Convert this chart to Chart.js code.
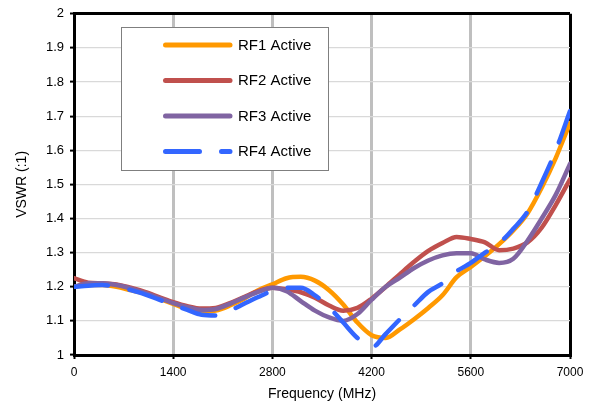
<!DOCTYPE html>
<html>
<head>
<meta charset="utf-8">
<script src="https://cdn.jsdelivr.net/npm/chart.js@4"></script>
<style>
  body { margin: 0; background: #fff; }
  canvas { display: block; }
</style>
</head>
<body>
<canvas id="vswr" width="590" height="403"></canvas>
<script>
// frequency points (MHz) shared by all four traces
const freqs = [0, 200, 400, 600, 800, 1000, 1200, 1400, 1600, 1800, 2000, 2200, 2400, 2600, 2800, 3000, 3200, 3400,
  3600, 3800, 4000, 4200, 4400, 4600, 4800, 5000, 5200, 5400, 5600, 5800, 6000, 6200, 6400, 6600, 6800, 7000];

const rf1 = [1.200, 1.205, 1.205, 1.200, 1.190, 1.180, 1.165, 1.150, 1.135, 1.127, 1.130, 1.145, 1.165, 1.190, 1.207, 1.225, 1.229, 1.218,
  1.190, 1.148, 1.095, 1.058, 1.050, 1.075, 1.105, 1.138, 1.175, 1.228, 1.258, 1.290, 1.325, 1.365, 1.415, 1.490, 1.578, 1.680];
const rf2 = [1.225, 1.212, 1.210, 1.207, 1.197, 1.185, 1.170, 1.155, 1.143, 1.136, 1.138, 1.152, 1.170, 1.187, 1.197, 1.192, 1.184, 1.168,
  1.145, 1.130, 1.138, 1.165, 1.200, 1.237, 1.273, 1.305, 1.328, 1.346, 1.340, 1.330, 1.307, 1.312, 1.330, 1.373, 1.440, 1.515];
const rf3 = [1.200, 1.210, 1.210, 1.205, 1.195, 1.182, 1.167, 1.152, 1.140, 1.132, 1.135, 1.150, 1.168, 1.185, 1.197, 1.187, 1.158, 1.130,
  1.110, 1.100, 1.120, 1.162, 1.200, 1.227, 1.255, 1.277, 1.292, 1.298, 1.298, 1.280, 1.270, 1.282, 1.335, 1.400, 1.470, 1.560];
const rf4 = [1.200, 1.203, 1.205, 1.200, 1.190, 1.178, 1.162, 1.147, 1.132, 1.118, 1.116, 1.130, 1.150, 1.170, 1.188, 1.197, 1.197, 1.175,
  1.140, 1.095, 1.050, 1.022, 1.062, 1.105, 1.145, 1.185, 1.210, 1.245, 1.270, 1.300, 1.327, 1.370, 1.420, 1.505, 1.600, 1.715];

const seriesNames = ['RF1 Active', 'RF2 Active', 'RF3 Active', 'RF4 Active'];
const xTicks = [0, 1400, 2800, 4200, 5600, 7000];
const yTicks = [1, 1.1, 1.2, 1.3, 1.4, 1.5, 1.6, 1.7, 1.8, 1.9, 2];

const FONT = "'Liberation Sans', Arial, Helvetica, sans-serif";

const toPoints = vals => vals.map((v, i) => ({ x: freqs[i], y: v }));

// boxed legend sitting inside the plot, like the Excel original
const legendBox = {
  id: 'legendBox',
  afterDraw(chart) {
    const ctx = chart.ctx;
    ctx.save();
    ctx.fillStyle = '#ffffff';
    ctx.fillRect(121, 27, 207, 143);
    ctx.strokeStyle = '#7f7f7f';
    ctx.lineWidth = 1;
    ctx.strokeRect(121.5, 27.5, 207, 143);
    chart.data.datasets.forEach((ds, i) => {
      const y = 45 + i * 35.5;
      ctx.beginPath();
      ctx.strokeStyle = ds.borderColor;
      ctx.lineWidth = 5;
      ctx.lineCap = 'round';
      ctx.setLineDash(ds.borderDash || []);
      ctx.moveTo(165.5, y);
      ctx.lineTo(230, y);
      ctx.stroke();
      ctx.setLineDash([]);
      ctx.fillStyle = '#000';
      ctx.font = '15px ' + FONT;
      ctx.textBaseline = 'middle';
      ctx.fillText(ds.label, 238, y + 0.5);
    });
    ctx.restore();
  }
};

const line = (label, data, color, order, dash) => ({
  label,
  data: toPoints(data),
  borderColor: color,
  borderWidth: 4.5,
  borderDash: dash,
  borderCapStyle: 'round',
  borderJoinStyle: 'round',
  pointRadius: 0,
  cubicInterpolationMode: 'monotone',
  fill: false,
  order
});

new Chart(document.getElementById('vswr').getContext('2d'), {
  type: 'line',
  data: {
    datasets: [
      line(seriesNames[0], rf1, '#FF9900', 4),
      line(seriesNames[1], rf2, '#C0504D', 3),
      line(seriesNames[2], rf3, '#8064A2', 2),
      line(seriesNames[3], rf4, '#3366FF', 1, [34, 22])
    ]
  },
  options: {
    responsive: false,
    animation: false,
    layout: { padding: { top: 13, right: 20, left: 0, bottom: 0 } },
    plugins: {
      legend: { display: false },
      tooltip: { enabled: false }
    },
    scales: {
      x: {
        type: 'linear',
        min: 0,
        max: 7000,
        afterBuildTicks: scale => { scale.ticks = xTicks.map(v => ({ value: v })); },
        afterFit: scale => { scale.height = 48; },
        ticks: {
          color: '#000',
          font: { family: FONT, size: 12 },
          padding: 6,
          maxRotation: 0,
          callback: v => String(v)
        },
        grid: {
          color: c => (c.tick && c.tick.value === 7000 ? '#000' : '#BFBFBF'),
          lineWidth: 3,
          tickLength: 4,
          tickColor: '#000',
          tickWidth: 2
        },
        border: { color: '#000', width: 3 },
        title: {
          display: true,
          text: 'Frequency (MHz)',
          color: '#000',
          font: { family: FONT, size: 14 },
          padding: { top: 0, bottom: 0 }
        }
      },
      y: {
        min: 1,
        max: 2,
        afterBuildTicks: scale => { scale.ticks = yTicks.map(v => ({ value: v })); },
        afterFit: scale => { scale.width = 74; },
        ticks: {
          color: '#000',
          font: { family: FONT, size: 13 },
          padding: 6,
          callback: v => (Number.isInteger(v) ? String(v) : v.toFixed(1))
        },
        grid: {
          color: c => (c.tick && c.tick.value === 2 ? '#000' : '#D9D9D9'),
          lineWidth: c => (c.tick && c.tick.value === 2 ? 3 : 1.2),
          tickLength: 4,
          tickColor: '#000',
          tickWidth: 2
        },
        border: { color: '#000', width: 3 },
        title: {
          display: true,
          text: 'VSWR (:1)',
          color: '#000',
          font: { family: FONT, size: 14 },
          padding: { top: 14, bottom: 0 }
        }
      }
    }
  },
  plugins: [legendBox]
});
</script>
</body>
</html>
